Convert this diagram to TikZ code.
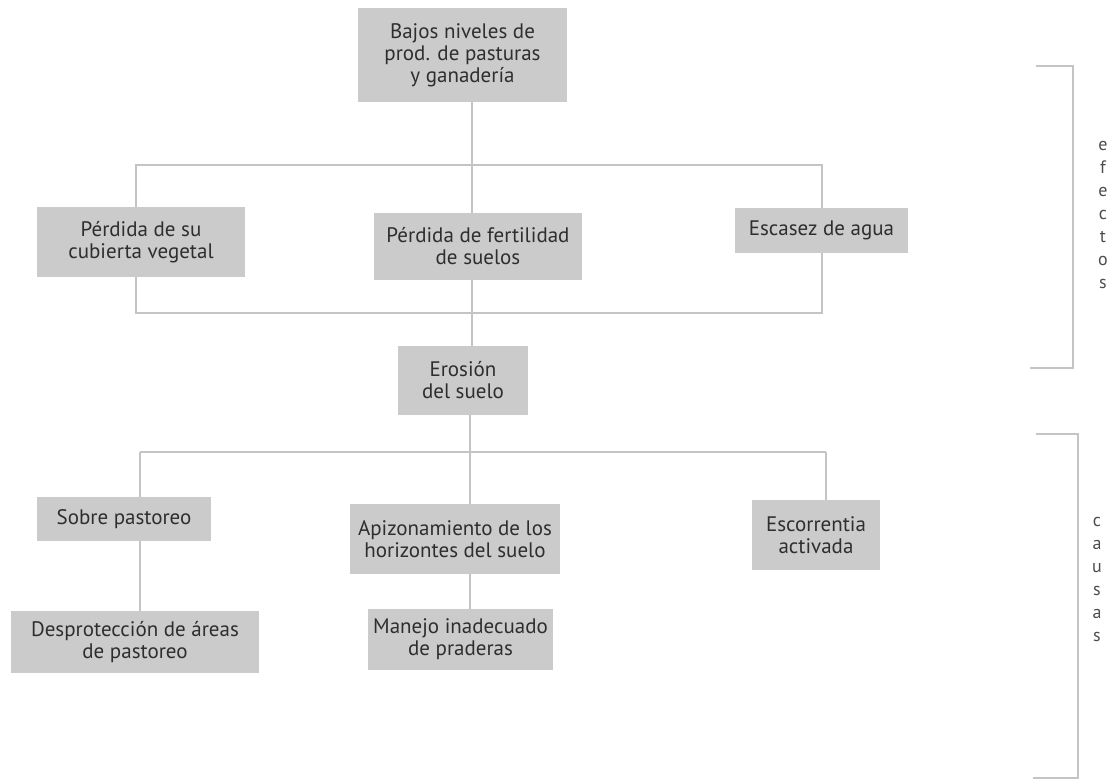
\documentclass[tikz,border=0pt]{standalone}
\usepackage{fontspec}
\setmainfont{PT Sans}
\definecolor{boxgray}{HTML}{CBCBCB}
\definecolor{linegray}{HTML}{C4C4C4}
\definecolor{txt}{HTML}{2E2E2E}
\begin{document}
\begin{tikzpicture}[x=1pt,y=-1pt,
  box/.style={fill=boxgray, draw=none, text=txt, align=center, inner sep=0pt,
    font=\fontsize{21}{22}\selectfont},
  conn/.style={draw=linegray, line width=1.4pt},
  brk/.style={draw=linegray, line width=1.6pt},
  vlab/.style={text=txt!85, align=center, font=\fontsize{18}{23}\selectfont, inner sep=0pt}]
\useasboundingbox[fill=white] (0,0) rectangle (1117,782);

% coordinates
\coordinate (ctop) at (472,165);
\coordinate (eTL) at (136,165);
\coordinate (eTR) at (822,165);
\coordinate (eBL) at (136,313);
\coordinate (eBR) at (822,313);
\coordinate (cC) at (470,452);
\coordinate (cL) at (140,452);
\coordinate (cR) at (826,452);

% connectors (behind boxes)
\coordinate (topS) at (472,102);
\coordinate (erN) at (472,346);
\coordinate (erS) at (470,415);
\draw[conn] (topS) -- (ctop);
\draw[conn] (eTL) -- (eTR) -- (eBR) -- (eBL) -- cycle;
\draw[conn] (ctop) -- (erN);
\draw[conn] (erS) -- (cC);
\draw[conn] (cL) -- (cR);

% boxes
\node[box, minimum width=209pt, minimum height=94pt] (top) at (462.5,55) {Bajos niveles de\\prod. de pasturas\\y ganadería};
\node[box, minimum width=208pt, minimum height=70pt] (p1) at (141,242) {Pérdida de su\\cubierta vegetal};
\node[box, minimum width=208pt, minimum height=67pt] (p2) at (478,246.5) {Pérdida de fertilidad\\de suelos};
\node[box, minimum width=173pt, minimum height=45pt] (p3) at (821.5,230.5) {Escasez de agua};
\node[box, minimum width=130pt, minimum height=69pt] (er) at (463,380.5) {Erosión\\del suelo};
\node[box, minimum width=174pt, minimum height=44pt] (so) at (124,519) {Sobre pastoreo};
\node[box, minimum width=248pt, minimum height=62pt] (de) at (135,642) {Desprotección de áreas\\de pastoreo};
\node[box, minimum width=210pt, minimum height=70pt] (ap) at (455,539) {Apizonamiento de los\\horizontes del suelo};
\node[box, minimum width=185pt, minimum height=61pt] (ma) at (460.5,639.5) {Manejo inadecuado\\de praderas};
\node[box, minimum width=128pt, minimum height=70pt] (es) at (816,535) {Escorrentia\\activada};

% connectors to cause boxes
\draw[conn] (cL) -- (cL |- so.north);
\draw[conn] (cL |- so.south) -- (cL |- de.north);
\draw[conn] (cC) -- (cC |- ap.north);
\draw[conn] (cC |- ap.south) -- (cC |- ma.north);
\draw[conn] (cR) -- (cR |- es.north);

% brackets
\coordinate (b1a) at (1036,66);
\coordinate (b1b) at (1073,66);
\coordinate (b1c) at (1073,368);
\coordinate (b1d) at (1030,368);
\draw[brk] (b1a) -- (b1b) -- (b1c) -- (b1d);
\coordinate (b2a) at (1036,434);
\coordinate (b2b) at (1078,434);
\coordinate (b2c) at (1078,778);
\coordinate (b2d) at (1033,778);
\draw[brk] (b2a) -- (b2b) -- (b2c) -- (b2d);

\node[vlab] (ef) at (1103,214.5) {e\\f\\e\\c\\t\\o\\s};
\node[vlab] (ca) at (1097,579) {c\\a\\u\\s\\a\\s};
\end{tikzpicture}
\end{document}
